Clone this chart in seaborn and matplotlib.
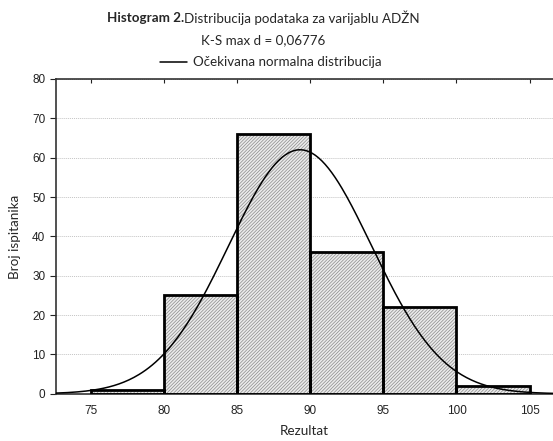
import numpy as np
import pandas as pd
import matplotlib
matplotlib.use('Agg')
import matplotlib.pyplot as plt
import seaborn as sns

# Histogram data
bin_edges = [75, 80, 85, 90, 95, 100, 105]
counts = [1, 25, 66, 36, 22, 2]
x_ticks = [75, 80, 85, 90, 95, 100, 105]
y_ticks = [0, 10, 20, 30, 40, 50, 60, 70, 80]

# Fitted normal curve parameters
mean_val = 89.3
sd_val = 4.89

sns.set_style('white')
plt.rcParams['font.family'] = ['Liberation Sans', 'DejaVu Sans']
plt.rcParams['hatch.linewidth'] = 0.5

calibri_like = ['Lato', 'DejaVu Sans']

fig = plt.figure(figsize=(5.53, 4.41), dpi=100)
ax = fig.add_axes([0.101, 0.107, 0.899, 0.714])

centers = [(a + b) / 2 for a, b in zip(bin_edges[:-1], bin_edges[1:])]
df = pd.DataFrame({'Rezultat': centers, 'n': counts})

# hatched fill
sns.histplot(data=df, x='Rezultat', weights='n', bins=bin_edges, ax=ax,
             color='#ebebeb', edgecolor='#8a8a8a', linewidth=0, hatch='//////////',
             alpha=1, zorder=2)
# black outlines
sns.histplot(data=df, x='Rezultat', weights='n', bins=bin_edges, ax=ax,
             fill=False, color='black', linewidth=2, zorder=3)

# expected normal curve
n_total = sum(counts)
width = bin_edges[1] - bin_edges[0]
xs = np.linspace(72.6, 106.6, 300)
ys = n_total * width / (sd_val * np.sqrt(2 * np.pi)) * np.exp(-0.5 * ((xs - mean_val) / sd_val) ** 2)
sns.lineplot(x=xs, y=ys, ax=ax, color='black', linewidth=1.1, zorder=4,
             label='Očekivana normalna distribucija')

ax.set_xlim(72.6, 106.6)
ax.set_ylim(0, 80)
ax.set_xticks(x_ticks)
ax.set_yticks(y_ticks)
ax.yaxis.grid(True, color='#c4c4c4', linestyle=(0, (1, 1)), linewidth=0.7)
ax.set_axisbelow(True)

for s in ['left', 'top', 'bottom']:
    ax.spines[s].set_visible(True)
    ax.spines[s].set_color('#333333')
    ax.spines[s].set_linewidth(1.2)
ax.spines['right'].set_visible(False)

ax.tick_params(axis='y', left=True, direction='out', length=4, labelsize=8.5, colors='#222222')
ax.tick_params(axis='x', bottom=False, top=True, direction='in', length=3, labelsize=8.5,
               colors='#222222', pad=8)

ax.set_xlabel('Rezultat', fontsize=9.7, family=calibri_like, labelpad=6)
ax.set_ylabel('Broj ispitanika', fontsize=9.7, family=calibri_like, labelpad=8)

leg = ax.legend(loc='center', bbox_to_anchor=(0.49, 0.859), bbox_transform=fig.transFigure,
                frameon=False, handlelength=2.0, handletextpad=0.5,
                prop={'family': calibri_like, 'size': 9.6})

fig.text(0.333, 0.959, 'Histogram 2.', ha='right', va='center', fontsize=9.6,
         family=calibri_like, fontweight='bold')
fig.text(0.333, 0.959, 'Distribucija podataka za varijablu ADŽN', ha='left', va='center',
         fontsize=9.6, family=calibri_like)
fig.text(0.476, 0.909, 'K-S max d = 0,06776', ha='center', va='center', fontsize=9.6,
         family=calibri_like)

fig.savefig('out.png', dpi=100)
